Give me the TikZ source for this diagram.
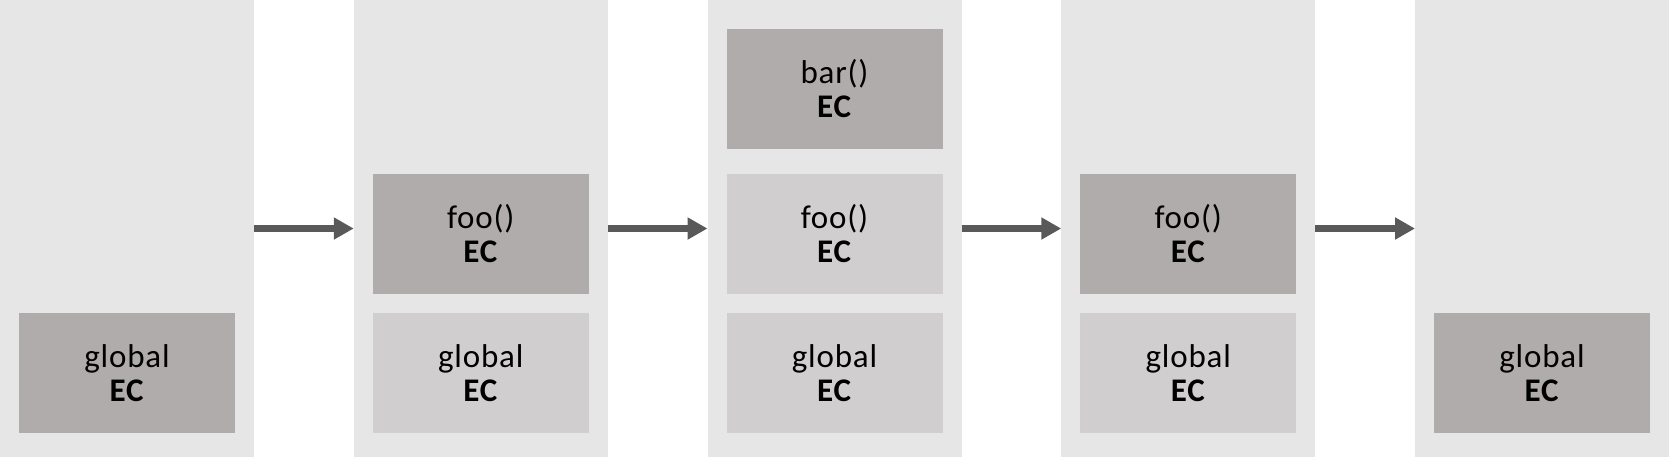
\documentclass[tikz,border=0pt]{standalone}
\usepackage{fontspec}
\setmainfont{Carlito}[LetterSpace=2.5]
\usetikzlibrary{arrows.meta}
\definecolor{stackbg}{HTML}{E6E6E6}
\definecolor{ctxdark}{HTML}{AFACAB}
\definecolor{ctxlight}{HTML}{D0CECE}
\definecolor{arrowgray}{HTML}{595959}

\begin{document}
\begin{tikzpicture}[x=0.5pt,y=-0.5pt]
\tikzstyle{every node}=[rectangle, inner sep=0pt, outer sep=0pt]
\tikzstyle{stack}=[fill=stackbg, minimum width=127pt, minimum height=228.5pt]
\tikzstyle{ctx}=[minimum width=108pt, minimum height=60pt, align=center, font=\fontsize{16.5}{17}\selectfont]
\tikzstyle{running}=[ctx, fill=ctxdark]
\tikzstyle{waiting}=[ctx, fill=ctxlight]
\tikzstyle{push}=[draw=arrowgray, line width=3.5pt, -{Triangle[length=10pt,width=10.5pt]}]
\useasboundingbox (0,0) rectangle (1669,457);
% call stacks
\draw (127,228.5) node (s1) [stack] {};
\draw (480.75,228.5) node (s2) [stack] {};
\draw (834.5,228.5) node (s3) [stack] {};
\draw (1188.25,228.5) node (s4) [stack] {};
\draw (1542,228.5) node (s5) [stack] {};
% execution contexts
\draw (127,373) node (g1) [running] {global\\\textbf{EC}};
\draw (480.75,234) node (f2) [running] {foo()\\\textbf{EC}};
\draw (480.75,373) node (g2) [waiting] {global\\\textbf{EC}};
\draw (834.5,89) node (b3) [running] {bar()\\\textbf{EC}};
\draw (834.5,234) node (f3) [waiting] {foo()\\\textbf{EC}};
\draw (834.5,373) node (g3) [waiting] {global\\\textbf{EC}};
\draw (1188.25,234) node (f4) [running] {foo()\\\textbf{EC}};
\draw (1188.25,373) node (g4) [waiting] {global\\\textbf{EC}};
\draw (1542,373) node (g5) [running] {global\\\textbf{EC}};
\draw[push] (s1.east) -- (s2.west);
\draw[push] (s2.east) -- (s3.west);
\draw[push] (s3.east) -- (s4.west);
\draw[push] (s4.east) -- (s5.west);
\end{tikzpicture}
\end{document}
